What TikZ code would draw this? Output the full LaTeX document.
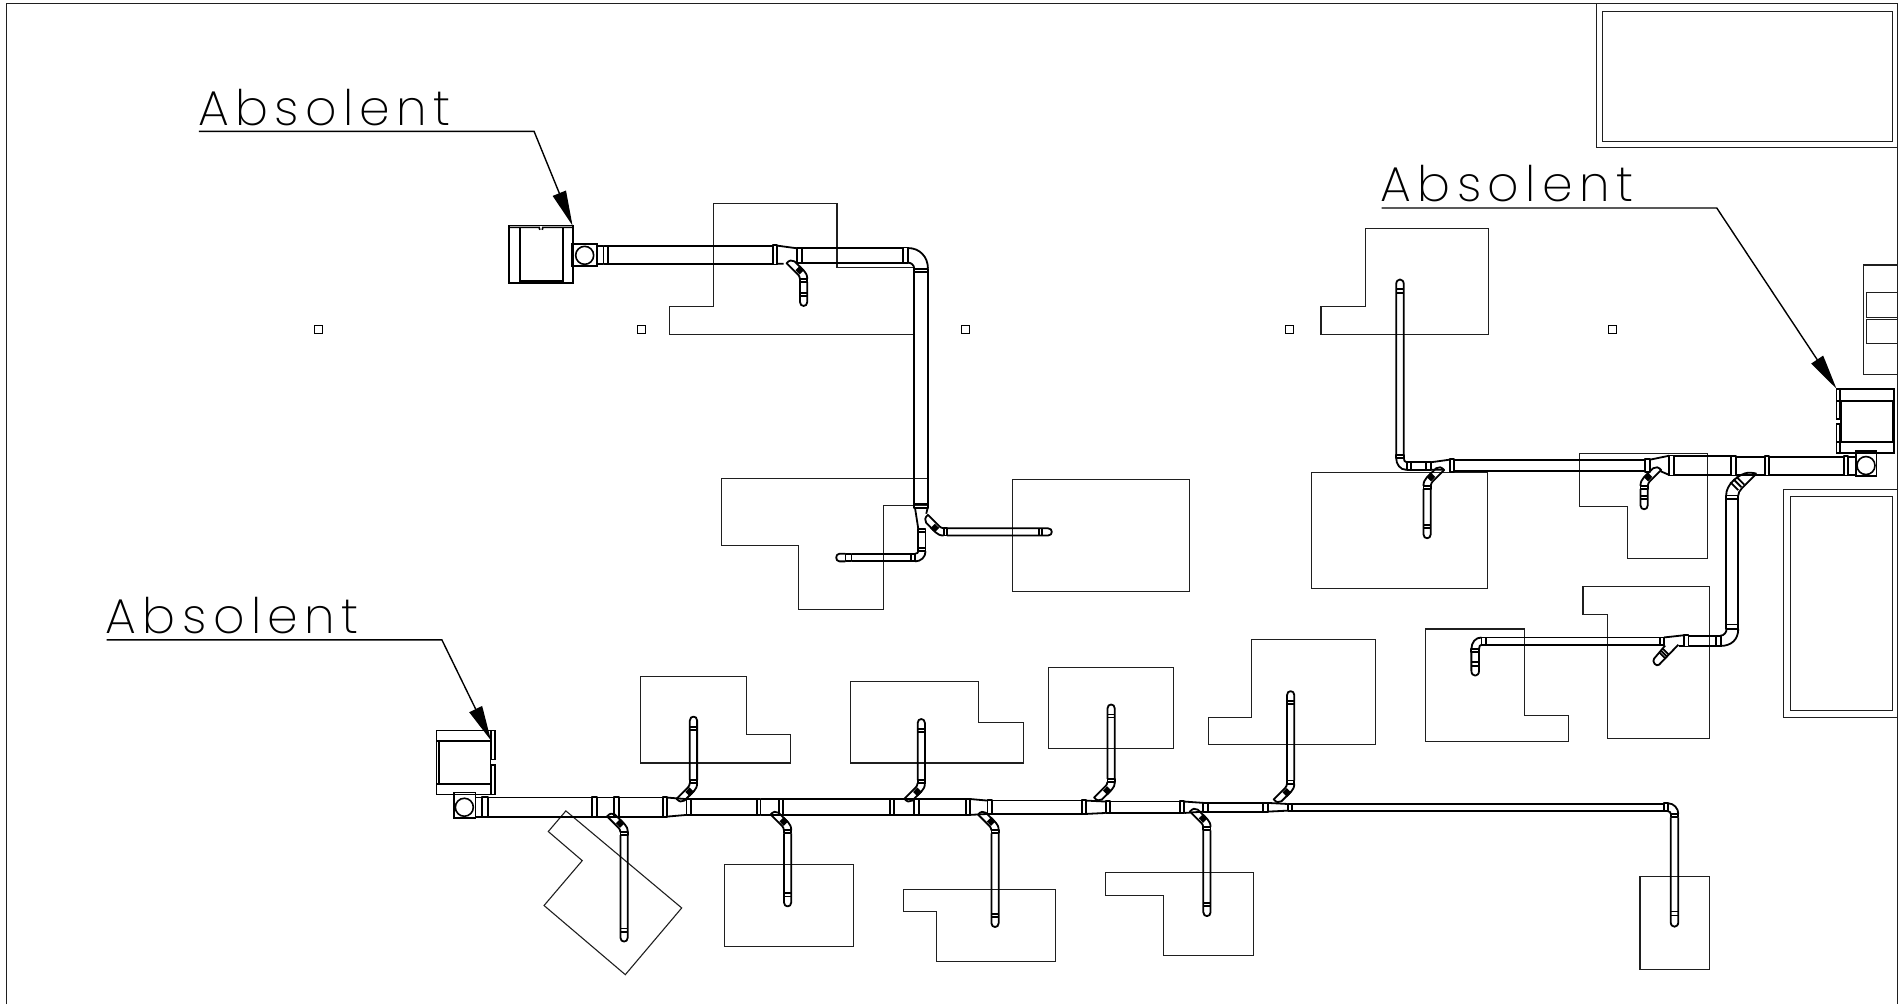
\documentclass[tikz,border=0pt]{standalone}
\usepackage{fontspec}
\usetikzlibrary{arrows.meta}
\newfontfamily\cadfont[LetterSpace=13]{Poppins ExtraLight}
\tikzset{
  room/.style={line width=0.55pt,draw=black!88},
  duct/.style={line width=0.9pt,draw=black,line join=round},
  unitline/.style={line width=0.8pt,draw=black},
  colmark/.style={line width=0.55pt,draw=black},
  leader/.style={line width=0.7pt,draw=black,-{Triangle[length=17.5pt,width=7pt]}},
  cadlabel/.style={anchor=base west,inner sep=0pt,font=\cadfont\fontsize{24.5}{25}\selectfont},
  fan/.style={circle,draw=black,line width=0.8pt,minimum size=9pt,inner sep=0pt}
}
\newcommand\fl[4]{\draw[duct] (#1,#2) rectangle (#3,#4);}
\newcommand\seg[4]{\draw[duct] (#1,#3) -- (#2,#3) (#1,#4) -- (#2,#4);}
\newcommand\vseg[4]{\draw[duct] (#3,#1) -- (#3,#2) (#4,#1) -- (#4,#2);}
\newcommand\takeoff[4][]{%
  \begin{scope}[shift={(#2,#3)},#1]
    \draw[duct] (3,0) .. controls (3,-3) and (2,-5) .. (0.5,-6.5) -- (-7.5,-14.5)
       .. controls (-9.5,-16) and (-12,-15.5) .. (-14,-13) -- (-4.5,-3.5)
       .. controls (-4,-3) and (-3,-1.5) .. (-3,0);
    \draw[duct] (-3.8,-4.2) -- (0,-8) (-5,-5.5) -- (-1.2,-9.3) (-6.2,-6.8) -- (-2.4,-10.6);
    \fl{-3}{0}{3}{2.5}
    \pgfmathsetmacro\tl{#4}
    \pgfmathsetmacro\ta{\tl-11}
    \pgfmathsetmacro\tb{\tl-8.5}
    \pgfmathsetmacro\tc{\tl-3.5}
    \pgfmathsetmacro\td{\tl+0.8}
    \draw[duct] (-3,2.5) -- (-3,\tc) .. controls (-3,\td) and (3,\td) .. (3,\tc) -- (3,2.5);
    \draw[duct] (-3,\ta) -- (3,\ta) (-3,\tb) -- (3,\tb);
  \end{scope}}
\begin{document}
\begin{tikzpicture}[x=0.6065pt,y=-0.6065pt]
\useasboundingbox (0,-0.5) rectangle (1568,827.2);
% sheet frame and fixed blocks
\draw[room] (5.5,827.2) -- (5.5,2.5) -- (1564.5,2.5) -- (1564.5,827.2);
\draw[room] (1316,2.5) -- (1316,121) -- (1564.5,121);
\draw[room] (1321,9) rectangle (1560,116);
\draw[room] (1564.5,218) -- (1536,218) -- (1536,308) -- (1564.5,308);
\draw[room] (1539,241) rectangle (1564,261);
\draw[room] (1539,263) rectangle (1564,283);
\draw[room] (1564.5,403) -- (1470,403) -- (1470,591) -- (1564.5,591);
\draw[room] (1476,409) rectangle (1560,585);
% columns
\foreach \cx in {262.5,529,796,1063,1329.5}
  \draw[colmark] (\cx-3.3,267.7) rectangle (\cx+3.3,274.7);
% rooms
\draw[room] (588,167) -- (690,167) -- (690,220) -- (753,220) -- (753,275) -- (552,275) -- (552,252) -- (588,252) -- cycle;
\draw[room] (595,394) -- (765,394) -- (765,416) -- (728,416) -- (728,502) -- (658,502) -- (658,449) -- (595,449) -- cycle;
\draw[room] (835,394.5) rectangle (980.5,487);
\draw[room] (1126,188) -- (1227,188) -- (1227,275) -- (1089,275) -- (1089,252) -- (1126,252) -- cycle;
\draw[room] (1081,389) rectangle (1226,485);
\draw[room] (1302,373) -- (1408,373) -- (1408,460) -- (1342,460) -- (1342,417) -- (1302,417) -- cycle;
\draw[room] (1305,483) -- (1409,483) -- (1409,608) -- (1325,608) -- (1325,506) -- (1305,506) -- cycle;
\draw[room] (1175,518) -- (1257,518) -- (1257,589) -- (1293,589) -- (1293,611) -- (1175,611) -- cycle;
\draw[room] (528,557) -- (615.5,557) -- (615.5,605) -- (652,605) -- (652,628.5) -- (528,628.5) -- cycle;
\draw[room] (701,561) -- (807,561) -- (807,595) -- (844,595) -- (844,628.5) -- (701,628.5) -- cycle;
\draw[room] (864,550) rectangle (967.5,616.5);
\draw[room] (1032,527) -- (1134,527) -- (1134,613) -- (996,613) -- (996,591) -- (1032,591) -- cycle;
\draw[room] (466.5,668) -- (562,748) -- (515.5,803) -- (448.5,746) -- (480,709) -- (452,685) -- cycle;
\draw[room] (597,712) rectangle (703.5,779.5);
\draw[room] (745,732.5) -- (870,732.5) -- (870,792) -- (772,792) -- (772,751) -- (745,751) -- cycle;
\draw[room] (911,719) -- (1033,719) -- (1033,787) -- (959,787) -- (959,738) -- (911,738) -- cycle;
\draw[room] (1352,722) rectangle (1409.5,798.5);

% === unit 1 ===
\draw[unitline] (419.5,185.5) rectangle (472.5,232.7);
\draw[unitline] (419.5,187) -- (444.5,187) -- (445,189) (447,189) -- (447.5,187) -- (472.5,187);
\draw[unitline] (428.7,187) -- (428.7,231) -- (464,231) -- (464,187);
\draw[unitline] (471,200.6) rectangle (492,219);
\node[fan] (fanA) at (482,210) {};
\seg{492}{497.5}{202}{217}
\fl{497.5}{202}{501.5}{217}
\seg{501.5}{637.5}{202}{217}
\fl{637.5}{201.5}{640.7}{217.5}
\draw[duct] (640.7,202) -- (657,204.2) (640.7,217) -- (646,217);
\fl{657}{204}{661}{216}
\seg{661}{744.7}{204}{216}
\fl{744.7}{203.5}{748.7}{216}
\draw[duct] (748.7,204) .. controls (758,204) and (765,211) .. (765,221);
\draw[duct] (748.7,216) .. controls (751,216) and (753.7,218) .. (753.7,221);
\fl{753.7}{221}{765}{224}
\vseg{224}{415}{753.7}{765}
\fl{753.7}{415}{765}{418}
\draw[duct] (754.3,418) -- (757,435.3) (764.8,418) -- (763.6,423);
\fl{757}{435.3}{763}{438.3}
\vseg{438.3}{451}{757}{763}
\fl{757}{451}{763}{454}
\draw[duct] (763,454) .. controls (763,459) and (759,462.3) .. (754.4,462.3);
\draw[duct] (757,454) .. controls (757,455) and (756,456) .. (754.4,456);
\fl{751}{456}{754.4}{462.3}
\seg{702}{751}{456}{462.3}
\fl{697}{456}{702}{462.3}
\draw[duct] (697,456) -- (692,456) .. controls (688.5,456) and (688.5,462.3) .. (692,462.3) -- (697,462.3);
\takeoff{662.5}{229.5}{22.5}
\takeoff[rotate=90,xscale=-1]{778}{438}{89.4}

% === unit 2 ===
\draw[unitline] (1514,320) -- (1561.5,320) -- (1561.5,373) -- (1514,373);
\draw[unitline] (1514,330) -- (1561.5,330) (1514,364) -- (1561.5,364);
\draw[unitline] (1514,320) rectangle (1516.8,345) (1514,349) rectangle (1516.8,373);
\draw[unitline] (1517.5,330) -- (1517.5,364);
\draw[unitline] (1560,330) -- (1560,364);
\draw[unitline] (1530,371.5) rectangle (1547,392);
\node[fan] (fanB) at (1538.3,383.3) {};
\seg{1523.7}{1530}{376}{391}
\fl{1520}{375.5}{1523.7}{391.5}
\seg{1458.5}{1520}{376}{391}
\fl{1455}{375.5}{1458.5}{391.5}
\seg{1431}{1455}{376}{391}
\fl{1427}{375.5}{1431}{391.5}
\seg{1380}{1427}{375.5}{391}
\fl{1376}{375}{1380}{391.5}
\draw[duct] (1360,378.5) -- (1376,375.2) (1369,388) -- (1376,391);
\fl{1356}{378}{1360}{388.5}
\seg{1198.7}{1356}{378.5}{388}
\fl{1195.4}{378}{1198.7}{388.5}
\draw[duct] (1179.5,380.6) -- (1195.4,378.4) (1179.5,386.8) -- (1190,386.8);
\fl{1175.7}{380.4}{1179.5}{387}
\seg{1163}{1175.7}{380.6}{386.8}
\fl{1159.7}{380.4}{1163}{387}
\draw[duct] (1159.7,386.9) .. controls (1154,386.9) and (1151,382) .. (1151,377);
\draw[duct] (1159.7,380.6) .. controls (1158,380.6) and (1157.3,379) .. (1157.3,377);
\fl{1151}{374.4}{1157.3}{377}
\draw[duct] (1151,374.4) -- (1151,234) .. controls (1151,228.5) and (1157.3,228.5) .. (1157.3,234) -- (1157.3,374.4);
\draw[duct] (1151,237.8) -- (1157.3,237.8) (1151,241) -- (1157.3,241);
\takeoff[xscale=-1]{1176.5}{400}{43.5}
\takeoff[xscale=-1]{1355.4}{400}{19.6}
% large branch
\draw[duct] (1438.6,389.7) .. controls (1432,392) and (1423,399) .. (1423,408);
\draw[duct] (1438.6,389.7) .. controls (1441,389) and (1445,389) .. (1448,390);
\draw[duct] (1448,390) -- (1436,402) .. controls (1434,404) and (1433,406) .. (1433,408);
\fl{1423}{408}{1433}{411}
\draw[duct] (1426.5,397) -- (1433,403.5) (1429,394.5) -- (1435.5,401) (1431.5,392.5) -- (1438,399);
\vseg{411}{514.4}{1423}{1433}
\fl{1422.6}{514.4}{1433}{518}
\draw[duct] (1433,518) .. controls (1433,527) and (1427,532) .. (1418.5,532);
\draw[duct] (1423.4,518) .. controls (1423.4,521) and (1421,523.5) .. (1418.5,523.5);
\fl{1414.7}{523.5}{1418.5}{532}
\seg{1392}{1414.7}{523.5}{532}
\fl{1388.3}{523}{1392}{532.5}
\draw[duct] (1371.8,525) -- (1388.3,523.2) (1384,532) -- (1388.3,532);
\fl{1368.5}{525}{1371.8}{531}
\seg{1225}{1368.5}{525}{531}
\fl{1221.4}{525}{1225}{531}
\draw[duct] (1221.4,525) .. controls (1216.5,525) and (1213,529) .. (1213,534.5);
\draw[duct] (1221.4,531) .. controls (1220,531) and (1219.3,532.5) .. (1219.3,534.5);
\fl{1213}{534.5}{1219.3}{537}
\draw[duct] (1213,537) -- (1213,552.5) .. controls (1213,557.8) and (1219.3,557.8) .. (1219.3,552.5) -- (1219.3,537);
\draw[duct] (1213,545.5) -- (1219.3,545.5) (1213,548.5) -- (1219.3,548.5);
% short stub
\draw[duct] (1383.6,531) -- (1367.7,547.5) .. controls (1365.5,549.5) and (1361.5,545) .. (1363.6,542.5) -- (1372.7,531.7);
\draw[duct] (1368,537.5) -- (1372.75,542.25) (1369.5,536) -- (1374.25,540.75) (1371,534.5) -- (1375.75,539.25);

% === unit 3 ===
\draw[unitline] (404.5,601.8) -- (360,601.8) -- (360,654.6) -- (404.5,654.6);
\draw[unitline] (360,610.6) -- (404.5,610.6) (362,610.6) -- (362,645.7) (360,645.7) -- (404.5,645.7);
\draw[unitline] (404.5,610.6) -- (404.5,645.7);
\draw[unitline] (405,601.8) rectangle (408,625.6) (405,630) rectangle (408,654.6);
\draw[unitline] (374.5,652.7) rectangle (392,673.8);
\node[fan] (fanC) at (382.8,665) {};
\seg{392}{397.6}{657}{672.7}
\fl{397.6}{656.8}{402}{673}
\seg{402}{488.3}{657}{672.7}
\fl{488.3}{656.8}{492}{673}
\seg{492}{506.5}{657}{672.7}
\fl{506.5}{656.8}{510}{673}
\seg{510}{546.3}{657}{672.7}
\fl{546.3}{656.8}{550}{673}
\draw[duct] (550,657) -- (566,658.3) (550,672.7) -- (566,671.3);
\fl{566}{658}{569.7}{671.5}
\seg{569.7}{623.8}{658.2}{671.3}
\fl{623.8}{658}{627}{671.5}
\seg{627}{642.2}{658.2}{671.3}
\fl{642.2}{658}{645.8}{671.5}
\seg{645.8}{733.7}{658.2}{671.3}
\fl{733.7}{658}{737}{671.5}
\seg{737}{753.8}{658.2}{671.3}
\fl{753.8}{658}{757.3}{671.5}
\seg{757.3}{796.4}{658.2}{671.3}
\fl{796.4}{658}{799.7}{671.5}
\draw[duct] (799.7,658.2) -- (814,659.5) (799.7,671.3) -- (814,670.5);
\fl{814}{659.3}{817.5}{670.7}
\seg{817.5}{891.7}{659.5}{670.5}
\fl{891.7}{659.3}{895.3}{670.7}
\draw[duct] (895.3,659.5) -- (911.5,660.3) (895.3,670.5) -- (911.5,669.7);
\fl{911.5}{660}{915}{670}
\seg{915}{972.8}{660.3}{669.7}
\fl{972.8}{660}{976.4}{670}
\draw[duct] (976.4,660.3) -- (992,661.4) (976.4,669.7) -- (992,668.6);
\fl{992}{661.2}{996}{668.8}
\seg{996}{1041.5}{661.4}{668.6}
\fl{1041.5}{661.2}{1045}{668.8}
\draw[duct] (1045,661.4) -- (1061.5,662.3) (1045,668.6) -- (1061.5,667.8);
\fl{1061.5}{662}{1064.9}{668}
\seg{1064.9}{1371.8}{662.3}{667.8}
\fl{1371.8}{661.7}{1375}{668.3}
\draw[duct] (1375,661.7) .. controls (1380,661.7) and (1383.6,666) .. (1383.6,670.5);
\draw[duct] (1375,668.3) .. controls (1376.5,668.3) and (1377.3,669.3) .. (1377.3,670.5);
\fl{1377.3}{670.5}{1383.6}{673.3}
\draw[duct] (1377.3,673.3) -- (1377.3,759.5) .. controls (1377.3,764.8) and (1383.6,764.8) .. (1383.6,759.5) -- (1383.6,673.3);
\draw[duct] (1377.3,751) -- (1383.6,751) (1377.3,754.3) -- (1383.6,754.3);
\takeoff{514.5}{685.5}{90.5}
\takeoff{649.3}{684}{63}
\takeoff{820.3}{684}{80}
\takeoff{995}{681.5}{73.5}
\takeoff[yscale=-1]{571.7}{645}{55}
\takeoff[yscale=-1]{759.5}{645}{53}
\takeoff[yscale=-1]{916}{644}{64}
\takeoff[yscale=-1]{1064}{645.5}{76.5}

% === labels and leaders ===
\node[cadlabel] (labelA) at (163,103) {Absolent};
\node[cadlabel] (labelB) at (1138,166) {Absolent};
\node[cadlabel] (labelC) at (87,522) {Absolent};
\coordinate (startA) at (164,107.8);
\coordinate (bendA) at (440.3,107.8);
\coordinate (tipA) at (472,185.5);
\coordinate (startB) at (1139,171);
\coordinate (bendB) at (1415.3,171);
\coordinate (tipB) at (1514,320);
\coordinate (startC) at (88,527);
\coordinate (bendC) at (364.3,527);
\coordinate (tipC) at (404.8,610);
\draw[leader] (startA) -- (bendA) -- (tipA);
\draw[leader] (startB) -- (bendB) -- (tipB);
\draw[leader] (startC) -- (bendC) -- (tipC);
\end{tikzpicture}
\end{document}
